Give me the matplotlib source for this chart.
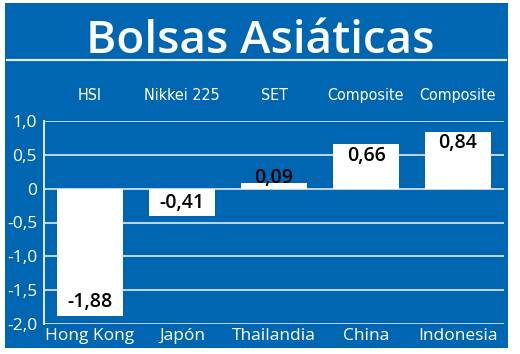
import matplotlib

matplotlib.use("Agg")
import matplotlib.pyplot as plt
from matplotlib.patches import Rectangle
from matplotlib.lines import Line2D

# ---------------------------------------------------------------------------
# Data
# ---------------------------------------------------------------------------
countries = ["Hong Kong", "Japón", "Thailandia", "China", "Indonesia"]
indices = ["HSI", "Nikkei 225", "SET", "Composite", "Composite"]
changes = [-1.88, -0.41, 0.09, 0.66, 0.84]
yticks = [1.0, 0.5, 0.0, -0.5, -1.0, -1.5, -2.0]
ytick_labels = ["1,0", "0,5", "0", "-0,5", "-1,0", "-1,5", "-2,0"]
title = "Bolsas Asiáticas"

BLUE = "#0066b1"
GRID = "#dcecf8"
W, H = 520, 354

fig = plt.figure(figsize=(W / 100, H / 100), dpi=100)
fig.patch.set_facecolor("white")

# blue panel behind everything
fig.patches.append(
    Rectangle((5 / W, 6 / H), 503 / W, 345 / H, transform=fig.transFigure,
              facecolor=BLUE, edgecolor="none", zorder=-5)
)
fig.text(0.5, (H - 53) / H, title, ha="center", va="baseline",
         color="white", fontsize=33, family="Open Sans", fontweight="semibold")
fig.lines.append(
    Line2D([7 / W, 506 / W], [(H - 60) / H] * 2, transform=fig.transFigure,
           color=GRID, lw=1.6)
)

ax = fig.add_axes([44 / W, (H - 324) / H, 460 / W, 203 / H])
ax.set_zorder(2)
ax.set_facecolor("none")
x = list(range(len(countries)))
ax.bar(x, changes, width=0.72, color="white", zorder=3)

for yt in yticks:
    ax.axhline(yt, color=GRID, lw=1.2, zorder=1)

ax.set_xlim(-0.5, 4.5)
ax.set_ylim(-2.0, 1.0)
ax.set_yticks(yticks)
ax.set_yticklabels(ytick_labels)
ax.set_xticks(x)
ax.set_xticklabels(countries)
ax.tick_params(length=0, colors="white")
ax.tick_params(axis="x", pad=3, labelsize=12.5)
ax.tick_params(axis="y", pad=5, labelsize=12.5)
for lab in ax.get_xticklabels() + ax.get_yticklabels():
    lab.set_family("Open Sans")
for side in ("top", "right", "bottom"):
    ax.spines[side].set_visible(False)
ax.spines["left"].set_color(GRID)
ax.spines["left"].set_linewidth(1.4)

for i, v in enumerate(changes):
    if v >= 0:
        ty = max(v - 0.17, 0.16)
    else:
        ty = v + 0.2
    ax.text(i, ty, f"{v:.2f}".replace(".", ","), ha="center", va="center",
            fontsize=14, fontweight="semibold", color="black", family="Open Sans",
            zorder=4)
    ax.text(i, 1.38, indices[i], ha="center", va="center", color="white",
            fontsize=11.5, family="DejaVu Sans", stretch="condensed",
            clip_on=False)

fig.savefig("out.png", dpi=100)
